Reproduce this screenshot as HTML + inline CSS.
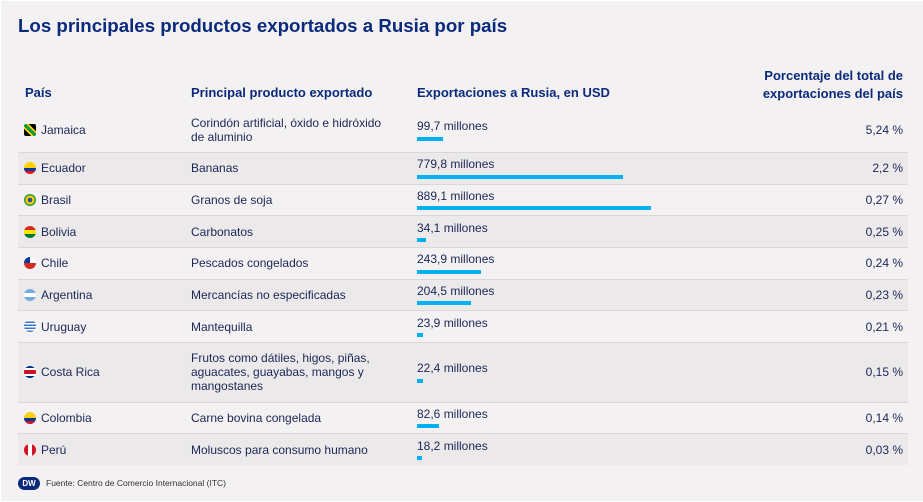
<!DOCTYPE html>
<html><head><meta charset="utf-8"><style>
*{margin:0;padding:0;box-sizing:border-box}
body{width:923px;height:502px;background:#fff;font-family:"Liberation Sans",sans-serif;overflow:hidden;position:relative}
#bg{position:absolute;left:1px;top:1px;width:922px;height:500px;background:#f3f1f2}
.t{position:absolute;white-space:nowrap}
.title{left:18px;top:15px;font-size:18.7px;font-weight:bold;color:#0b2a7c}
.h{font-size:13px;font-weight:bold;color:#0b2a7c;line-height:18px}
.row{position:absolute;left:18px;width:890px;border-top:1px solid #d9d7d8}
.dark{background:#ebe9ea}
.c{position:absolute;font-size:12px;color:#1b2656;line-height:14px;white-space:nowrap}
.bar{position:absolute;left:417px;height:4px;background:#00b0f0}
.flag{position:absolute;left:24px;width:12px;height:12px;border-radius:50%}
</style></head><body>
<div id="bg"></div>
<div class="t title">Los principales productos exportados a Rusia por país</div>
<div class="t h" style="left:25px;top:84px">País</div>
<div class="t h" style="left:191px;top:84px">Principal producto exportado</div>
<div class="t h" style="left:417px;top:84px">Exportaciones a Rusia, en USD</div>
<div class="t h" style="left:720px;top:67px;width:183px;text-align:right">Porcentaje del total de<br>exportaciones del país</div>

<div class="row" style="top:110px;height:43px;border-top:none"></div>
<div class="row dark" style="top:152px;height:33px"></div>
<div class="row" style="top:184px;height:32px"></div>
<div class="row dark" style="top:215px;height:33px"></div>
<div class="row" style="top:247px;height:33px"></div>
<div class="row dark" style="top:279px;height:32px"></div>
<div class="row" style="top:310px;height:33px"></div>
<div class="row dark" style="top:342px;height:61px"></div>
<div class="row" style="top:402px;height:32px"></div>
<div class="row dark" style="top:433px;height:32px"></div>

<!-- Jamaica -->
<div class="flag" style="top:124px;border-radius:2px;background:linear-gradient(45deg,#000 30%,#fed100 30% 40%,#009b3a 40% 60%,#fed100 60% 70%,#000 70%)"></div>
<div class="c" style="left:41px;top:123px">Jamaica</div>
<div class="c" style="left:191px;top:116px">Corindón artificial, óxido e hidróxido<br>de aluminio</div>
<div class="c" style="left:417px;top:119px">99,7 millones</div><div class="bar" style="top:137px;width:26px"></div>
<div class="c" style="left:800px;width:103px;text-align:right;top:123px">5,24 %</div>
<!-- Ecuador -->
<div class="flag" style="top:162px;background:linear-gradient(#ffd100 50%,#0038a8 50% 75%,#e11 75%)"></div>
<div class="c" style="left:41px;top:161px">Ecuador</div>
<div class="c" style="left:191px;top:161px">Bananas</div>
<div class="c" style="left:417px;top:157px">779,8 millones</div><div class="bar" style="top:175px;width:206px"></div>
<div class="c" style="left:800px;width:103px;text-align:right;top:161px">2,2 %</div>
<!-- Brasil -->
<div class="flag" style="top:194px;background:radial-gradient(circle,#2a4ea0 25%,#ffd100 30% 50%,#2a9a3a 55%)"></div>
<div class="c" style="left:41px;top:193px">Brasil</div>
<div class="c" style="left:191px;top:193px">Granos de soja</div>
<div class="c" style="left:417px;top:189px">889,1 millones</div><div class="bar" style="top:206px;width:234px"></div>
<div class="c" style="left:800px;width:103px;text-align:right;top:193px">0,27 %</div>
<!-- Bolivia -->
<div class="flag" style="top:226px;background:linear-gradient(#d52b1e 33%,#f9e300 33% 66%,#007934 66%)"></div>
<div class="c" style="left:41px;top:225px">Bolivia</div>
<div class="c" style="left:191px;top:225px">Carbonatos</div>
<div class="c" style="left:417px;top:221px">34,1 millones</div><div class="bar" style="top:238px;width:9px"></div>
<div class="c" style="left:800px;width:103px;text-align:right;top:225px">0,25 %</div>
<!-- Chile -->
<div class="flag" style="top:257px;background:linear-gradient(#fff 50%,#d52b1e 50%)"><div style="width:6px;height:6px;background:#0039a6;border-radius:6px 0 0 0"></div></div>
<div class="c" style="left:41px;top:256px">Chile</div>
<div class="c" style="left:191px;top:256px">Pescados congelados</div>
<div class="c" style="left:417px;top:252px">243,9 millones</div><div class="bar" style="top:270px;width:64px"></div>
<div class="c" style="left:800px;width:103px;text-align:right;top:256px">0,24 %</div>
<!-- Argentina -->
<div class="flag" style="top:289px;background:linear-gradient(#74acdf 33%,#fff 33% 66%,#74acdf 66%)"></div>
<div class="c" style="left:41px;top:288px">Argentina</div>
<div class="c" style="left:191px;top:288px">Mercancías no especificadas</div>
<div class="c" style="left:417px;top:284px">204,5 millones</div><div class="bar" style="top:301px;width:54px"></div>
<div class="c" style="left:800px;width:103px;text-align:right;top:288px">0,23 %</div>
<!-- Uruguay -->
<div class="flag" style="top:320px;background:repeating-linear-gradient(#fff 0 1.5px,#3a6fc4 1.5px 3px)"></div>
<div class="c" style="left:41px;top:320px">Uruguay</div>
<div class="c" style="left:191px;top:320px">Mantequilla</div>
<div class="c" style="left:417px;top:316px">23,9 millones</div><div class="bar" style="top:333px;width:6px"></div>
<div class="c" style="left:800px;width:103px;text-align:right;top:320px">0,21 %</div>
<!-- Costa Rica -->
<div class="flag" style="top:366px;background:linear-gradient(#002b7f 17%,#fff 17% 33%,#ce1126 33% 67%,#fff 67% 83%,#002b7f 83%)"></div>
<div class="c" style="left:41px;top:365px">Costa Rica</div>
<div class="c" style="left:191px;top:351px">Frutos como dátiles, higos, piñas,<br>aguacates, guayabas, mangos y<br>mangostanes</div>
<div class="c" style="left:417px;top:361px">22,4 millones</div><div class="bar" style="top:379px;width:6px"></div>
<div class="c" style="left:800px;width:103px;text-align:right;top:365px">0,15 %</div>
<!-- Colombia -->
<div class="flag" style="top:412px;background:linear-gradient(#fcd116 50%,#003893 50% 75%,#ce1126 75%)"></div>
<div class="c" style="left:41px;top:411px">Colombia</div>
<div class="c" style="left:191px;top:411px">Carne bovina congelada</div>
<div class="c" style="left:417px;top:407px">82,6 millones</div><div class="bar" style="top:424px;width:22px"></div>
<div class="c" style="left:800px;width:103px;text-align:right;top:411px">0,14 %</div>
<!-- Peru -->
<div class="flag" style="top:444px;background:linear-gradient(90deg,#d91023 33%,#fff 33% 66%,#d91023 66%)"></div>
<div class="c" style="left:41px;top:443px">Perú</div>
<div class="c" style="left:191px;top:443px">Moluscos para consumo humano</div>
<div class="c" style="left:417px;top:439px">18,2 millones</div><div class="bar" style="top:456px;width:5px"></div>
<div class="c" style="left:800px;width:103px;text-align:right;top:443px">0,03 %</div>

<div style="position:absolute;left:18px;top:477px;width:22px;height:13px;border-radius:7px;background:#0b2a7c;color:#fff;font-size:8px;font-weight:bold;line-height:13px;text-align:center">DW</div>
<div class="c" style="left:46px;top:478px;font-size:8.5px;line-height:11px;color:#333">Fuente: Centro de Comercio Internacional (ITC)</div>
</body></html>
